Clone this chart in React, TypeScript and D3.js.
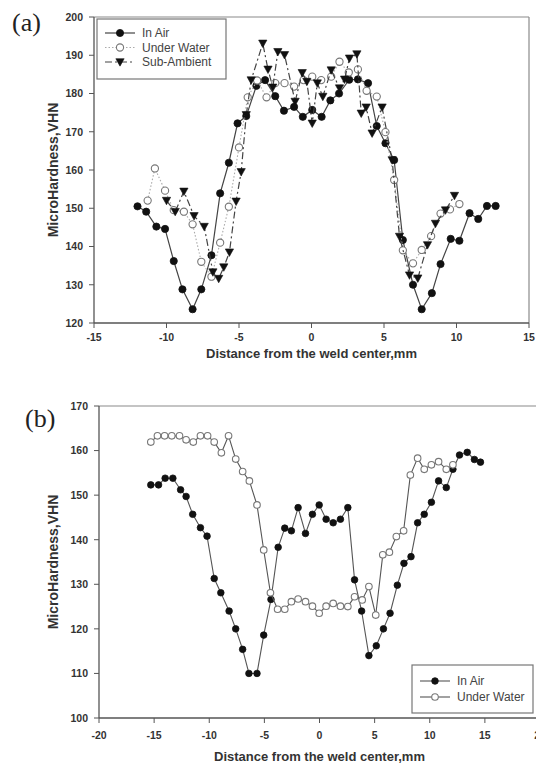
import React from "react";
import * as d3 from "d3";

// ---- Panel (a): microhardness profiles across the weld ----
const airAX = [-12.0, -11.4, -10.7, -10.1, -9.5, -8.9, -8.2, -7.6, -6.9, -6.3, -5.7, -5.1, -4.5, -3.8, -3.2, -2.5, -1.9, -1.2, -0.6, 0.05, 0.7, 1.3, 1.9, 2.6, 3.2, 3.9, 4.5, 5.1, 5.7, 6.3, 7.0, 7.6, 8.3, 8.9, 9.6, 10.2, 10.9, 11.5, 12.1, 12.7];
const airAY = [150.5, 149.1, 145.2, 144.6, 136.2, 128.8, 123.6, 128.8, 137.7, 153.9, 161.9, 172.2, 174.1, 182.0, 183.5, 179.3, 175.5, 176.5, 173.9, 175.7, 173.9, 178.2, 180.0, 183.6, 183.7, 182.7, 171.5, 167.0, 162.6, 141.7, 130.0, 123.6, 127.8, 135.4, 142.0, 141.5, 148.7, 147.2, 150.6, 150.6];

const waterAX = [-11.3, -10.8, -10.1, -9.5, -8.8, -8.2, -7.6, -6.9, -6.3, -5.7, -5.0, -4.4, -3.75, -3.1, -2.5, -1.86, -1.2, -0.55, 0.05, 0.67, 1.36, 1.93, 2.57, 3.2, 3.8, 4.5, 5.1, 5.7, 6.3, 7.0, 7.6, 8.25, 8.9, 9.55, 10.2];
const waterAY = [152.0, 160.4, 154.6, 149.5, 149.1, 145.8, 136.0, 132.1, 141.0, 150.4, 165.9, 179.0, 183.4, 179.0, 182.7, 182.7, 181.8, 183.5, 184.4, 183.5, 184.4, 188.3, 185.5, 186.3, 180.7, 179.2, 169.9, 157.4, 139.0, 135.6, 139.1, 142.7, 148.6, 149.7, 151.1];

const subAX = [-10.0, -9.4, -8.8, -8.1, -7.4, -6.8, -6.4, -6.05, -5.66, -5.2, -4.85, -4.5, -4.16, -3.36, -3.0, -2.67, -2.32, -1.86, -1.13, -0.64, -0.32, 0.05, 0.4, 0.78, 1.36, 1.93, 2.28, 2.62, 3.13, 3.43, 3.77, 4.18, 4.87, 5.56, 6.07, 6.76, 7.33, 8.0, 8.55, 9.24, 9.86];
const subAY = [152.0, 149.1, 154.4, 148.0, 145.2, 133.3, 131.6, 134.6, 138.5, 151.8, 159.5, 174.4, 183.5, 193.1, 186.3, 181.6, 190.9, 190.1, 177.9, 185.4, 183.1, 172.2, 182.7, 179.2, 186.1, 181.4, 183.7, 189.2, 190.3, 174.8, 176.4, 169.6, 176.4, 162.6, 142.6, 132.5, 131.7, 140.4, 146.0, 149.5, 153.3];

const ticksAX = [-15, -10, -5, 0, 5, 10, 15];
const ticksAY = [120, 130, 140, 150, 160, 170, 180, 190, 200];

// ---- Panel (b) ----
const airBX = [-15.3, -14.6, -14.0, -13.3, -12.6, -12.1, -11.5, -10.8, -10.2, -9.55, -8.95, -8.2, -7.6, -6.97, -6.4, -5.67, -5.06, -4.4, -3.75, -3.15, -2.55, -1.94, -1.27, -0.64, -0.03, 0.6, 1.24, 1.9, 2.57, 3.18, 3.82, 4.48, 5.15, 5.8, 6.4, 7.06, 7.66, 8.3, 8.9, 9.5, 10.15, 10.8, 11.5, 12.1, 12.7, 13.4, 14.05, 14.6];
const airBY = [152.3, 152.3, 153.8, 153.8, 151.2, 149.7, 145.7, 142.7, 140.8, 131.3, 128.1, 124.0, 120.0, 115.4, 110.0, 110.0, 118.6, 126.6, 138.3, 142.6, 142.0, 147.2, 141.4, 145.7, 147.8, 144.6, 143.8, 144.6, 147.2, 131.0, 124.0, 114.0, 116.2, 120.0, 123.5, 129.8, 134.7, 136.2, 143.8, 145.7, 148.4, 153.2, 151.7, 155.8, 159.0, 159.6, 158.0, 157.4];

const waterBX = [-15.3, -14.7, -14.05, -13.4, -12.7, -12.1, -11.45, -10.8, -10.15, -9.55, -8.9, -8.25, -7.6, -6.97, -6.36, -5.67, -5.06, -4.45, -3.8, -3.15, -2.55, -1.94, -1.27, -0.64, -0.03, 0.6, 1.24, 1.9, 2.57, 3.18, 3.87, 4.48, 5.1, 5.74, 6.34, 6.97, 7.63, 8.24, 8.9, 9.5, 10.15, 10.8, 11.5, 12.1];
const waterBY = [161.9, 163.3, 163.3, 163.3, 163.3, 162.4, 161.9, 163.3, 163.3, 161.9, 159.5, 163.3, 158.1, 155.3, 153.2, 147.8, 137.7, 128.1, 124.4, 124.4, 126.1, 126.7, 126.1, 125.1, 123.5, 125.1, 125.7, 125.1, 125.0, 127.2, 126.5, 129.5, 123.1, 136.6, 137.2, 140.7, 142.0, 154.5, 158.3, 155.8, 156.8, 157.5, 155.8, 156.8];

const ticksBX = [-20, -15, -10, -5, 0, 5, 10, 15, 20];
const ticksBY = [100, 110, 120, 130, 140, 150, 160, 170];

const labelA = "(a)";
const labelB = "(b)";
const yTitle = "MicroHardness,VHN";
const xTitle = "Distance from the weld center,mm";

const FONT = "'Liberation Sans', Arial, sans-serif";
const AXIS = "#555";
const FRAME = "#8a8a8a";
const TEXT = "#333";

type Series = {
  name: string;
  xs: number[];
  ys: number[];
  marker: "dot" | "ring" | "tri";
  stroke: string;
  dash?: string;
  lineWidth: number;
};

type PanelProps = {
  label: string;
  left: number;
  right: number;
  top: number;
  bottom: number;
  xDomain: [number, number];
  yDomain: [number, number];
  xTicks: number[];
  yTicks: number[];
  series: Series[];
  r: number;
  legend: { x: number; y: number; w: number; h: number; rowGap: number; first: number };
  labelPos: [number, number];
  xTickY: number;
  xTitleY: number;
  drawRight: boolean;
};

function Marker({ kind, x, y, r }: { kind: Series["marker"]; x: number; y: number; r: number }) {
  if (kind === "dot") return <circle cx={x} cy={y} r={r} fill="#111" stroke="#111" strokeWidth={0.8} />;
  if (kind === "ring") return <circle cx={x} cy={y} r={r} fill="#fff" stroke="#777" strokeWidth={1.1} />;
  const s = r * 1.15;
  const path = d3.path();
  path.moveTo(x - s, y - s * 0.8);
  path.lineTo(x + s, y - s * 0.8);
  path.lineTo(x, y + s * 1.0);
  path.closePath();
  return <path d={path.toString()} fill="#111" stroke="#111" strokeWidth={0.6} />;
}

function Panel(p: PanelProps) {
  const x = d3.scaleLinear().domain(p.xDomain).range([p.left, p.right]);
  const y = d3.scaleLinear().domain(p.yDomain).range([p.bottom, p.top]);
  const line = d3.line<[number, number]>().x((d) => x(d[0])).y((d) => y(d[1]));
  const midY = (p.top + p.bottom) / 2;
  return (
    <g>
      <text x={p.labelPos[0]} y={p.labelPos[1]} fontFamily="'Liberation Serif', 'Times New Roman', serif" fontSize={26} fill="#222">
        {p.label}
      </text>
      {/* frame */}
      <line x1={p.left} x2={p.right} y1={p.top} y2={p.top} stroke={FRAME} strokeWidth={1.2} />
      {p.drawRight && <line x1={p.right} x2={p.right} y1={p.top} y2={p.bottom} stroke={FRAME} strokeWidth={1.2} />}
      <line x1={p.left} x2={p.left} y1={p.top} y2={p.bottom} stroke={AXIS} strokeWidth={1.3} />
      <line x1={p.left} x2={p.right} y1={p.bottom} y2={p.bottom} stroke={AXIS} strokeWidth={1.3} />
      {p.yTicks.map((t) => (
        <g key={"y" + t}>
          <line x1={p.left - 5} x2={p.left} y1={y(t)} y2={y(t)} stroke={AXIS} strokeWidth={1} />
          <text x={p.left - 11} y={y(t) + 3.8} textAnchor="end" fontFamily={FONT} fontWeight="bold" fontSize={10.5} fill={TEXT}>
            {t}
          </text>
        </g>
      ))}
      {p.xTicks.map((t) => (
        <g key={"x" + t}>
          <line x1={x(t)} x2={x(t)} y1={p.bottom} y2={p.bottom + 5} stroke={AXIS} strokeWidth={1} />
          <text x={x(t)} y={p.xTickY} textAnchor="middle" fontFamily={FONT} fontWeight="bold" fontSize={10.5} fill={TEXT}>
            {t}
          </text>
        </g>
      ))}
      <text
        transform={`translate(58,${midY}) rotate(-90)`}
        textAnchor="middle"
        fontFamily={FONT}
        fontWeight="bold"
        fontSize={14}
        fill={TEXT}
      >
        {yTitle}
      </text>
      <text x={x(0)} y={p.xTitleY} textAnchor="middle" fontFamily={FONT} fontWeight="bold" fontSize={13} fill={TEXT}>
        {xTitle}
      </text>
      {p.series.map((s) => {
        const pts = s.xs.map((v, i) => [v, s.ys[i]] as [number, number]);
        return (
          <g key={s.name}>
            <path d={line(pts) ?? ""} fill="none" stroke={s.stroke} strokeWidth={s.lineWidth} strokeDasharray={s.dash} />
            {pts.map((d, i) => (
              <Marker key={i} kind={s.marker} x={x(d[0])} y={y(d[1])} r={p.r} />
            ))}
          </g>
        );
      })}
      {/* legend */}
      <rect x={p.legend.x} y={p.legend.y} width={p.legend.w} height={p.legend.h} fill="#fff" stroke="#777" strokeWidth={1.2} />
      {p.series.map((s, i) => {
        const ly = p.legend.y + p.legend.first + i * p.legend.rowGap;
        const lx = p.legend.x + 8;
        return (
          <g key={"lg" + s.name}>
            <line x1={lx} x2={lx + 30} y1={ly} y2={ly} stroke={s.stroke} strokeWidth={s.lineWidth} strokeDasharray={s.dash} />
            <Marker kind={s.marker} x={lx + 15} y={ly} r={p.r} />
            <text x={lx + 37} y={ly + 4.3} fontFamily={FONT} fontSize={12} fill="#444">
              {s.name}
            </text>
          </g>
        );
      })}
    </g>
  );
}

export default function App() {
  const seriesA: Series[] = [
    { name: "In Air", xs: airAX, ys: airAY, marker: "dot", stroke: "#444", lineWidth: 1.2 },
    { name: "Under Water", xs: waterAX, ys: waterAY, marker: "ring", stroke: "#aaa", dash: "1.5 2", lineWidth: 1.1 },
    { name: "Sub-Ambient", xs: subAX, ys: subAY, marker: "tri", stroke: "#444", dash: "7 3 2 3", lineWidth: 1.2 },
  ];
  const seriesB: Series[] = [
    { name: "In Air", xs: airBX, ys: airBY, marker: "dot", stroke: "#555", lineWidth: 1.1 },
    { name: "Under Water", xs: waterBX, ys: waterBY, marker: "ring", stroke: "#555", lineWidth: 1.1 },
  ];
  return (
    <svg width={536} height={769} style={{ position: "absolute", left: 0, top: 0, background: "#fff" }}>
      <Panel
        label={labelA}
        left={94}
        right={529}
        top={17}
        bottom={323}
        xDomain={[-15, 15]}
        yDomain={[120, 200]}
        xTicks={ticksAX}
        yTicks={ticksAY}
        series={seriesA}
        r={3.6}
        legend={{ x: 97, y: 19, w: 129, h: 60, rowGap: 14.5, first: 14 }}
        labelPos={[12, 31]}
        xTickY={341}
        xTitleY={358}
        drawRight={true}
      />
      <Panel
        label={labelB}
        left={99}
        right={540}
        top={406}
        bottom={718}
        xDomain={[-20, 20]}
        yDomain={[100, 170]}
        xTicks={ticksBX}
        yTicks={ticksBY}
        series={seriesB}
        r={3.3}
        legend={{ x: 412, y: 665, w: 121, h: 48, rowGap: 16, first: 16 }}
        labelPos={[25, 427]}
        xTickY={739}
        xTitleY={761}
        drawRight={false}
      />
    </svg>
  );
}
